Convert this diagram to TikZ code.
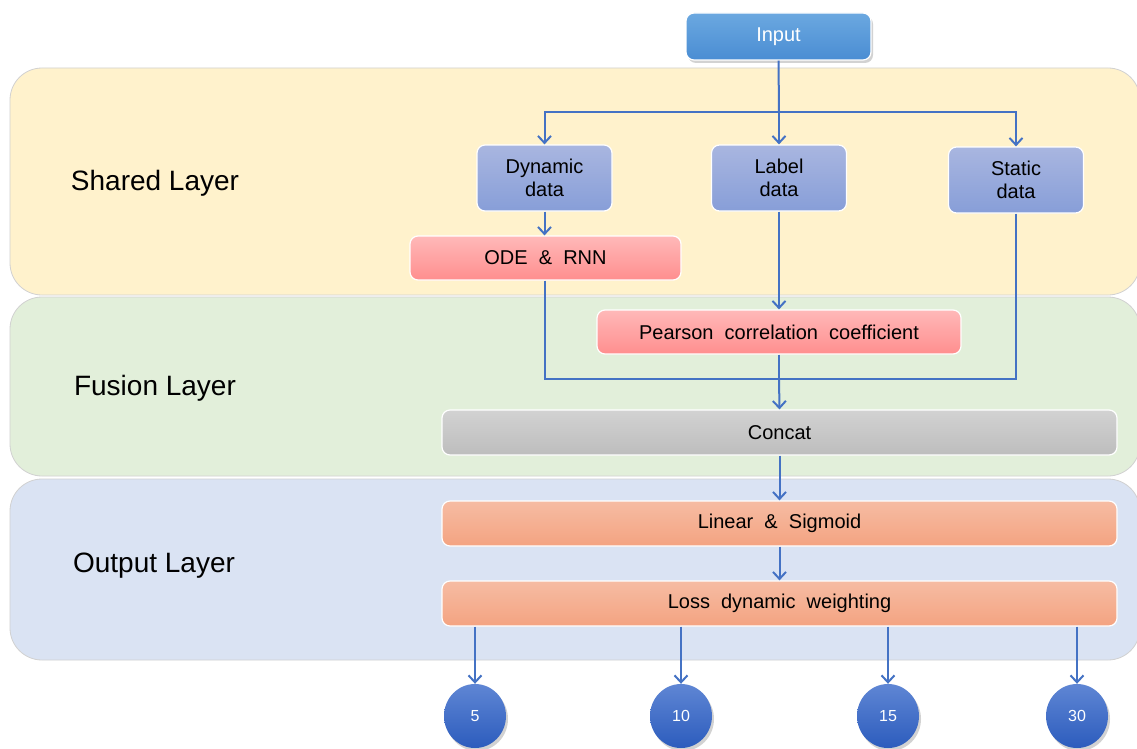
\documentclass[tikz,border=0pt]{standalone}
\usepackage{fontspec}
\setmainfont{Liberation Sans}
\usetikzlibrary{arrows.meta,shadows,shapes.geometric}
\definecolor{arr}{HTML}{4472C4}
\definecolor{layA}{HTML}{FFF2CC}
\definecolor{layB}{HTML}{E2EFDA}
\definecolor{layC}{HTML}{DAE3F3}
\definecolor{datT}{HTML}{A9B6E0}
\definecolor{datB}{HTML}{879ED8}
\definecolor{pinkT}{HTML}{FFB9B9}
\definecolor{pinkB}{HTML}{FF8E8E}
\definecolor{grayT}{HTML}{D2D2D2}
\definecolor{grayB}{HTML}{BDBDBD}
\definecolor{orT}{HTML}{F6BCA3}
\definecolor{orB}{HTML}{F4A381}
\definecolor{inT}{HTML}{6BA8E0}
\definecolor{inB}{HTML}{4A8DD3}
\definecolor{cT}{HTML}{5F86D4}
\definecolor{cB}{HTML}{2C5CBD}
\tikzset{
  layer/.style={draw=black!18, line width=0.8pt, rounded corners=32pt},
  layertext/.style={font=\fontsize{28}{32}\selectfont, text=black},
  boxbase/.style={draw=white, line width=1.2pt, rounded corners=8pt, inner sep=0pt,
    font=\fontsize{20}{23}\selectfont, align=center, text=black},
  datbox/.style={boxbase, top color=datT, bottom color=datB, minimum width=135pt, minimum height=66pt},
  pinkbox/.style={boxbase, top color=pinkT, bottom color=pinkB, minimum height=44pt},
  graybox/.style={boxbase, top color=grayT, bottom color=grayB, minimum width=675pt, minimum height=45pt},
  orbox/.style={boxbase, top color=orT, bottom color=orB, minimum width=675pt, minimum height=45pt},
  inbox/.style={boxbase, top color=inT, bottom color=inB, text=white, minimum width=185pt, minimum height=47pt,
    drop shadow={shadow xshift=2pt, shadow yshift=-3pt, opacity=0.35}},
  outc/.style={ellipse, minimum width=62pt, minimum height=64pt, inner sep=0pt, top color=cT, bottom color=cB,
    text=white, font=\fontsize{16}{19}\selectfont,
    drop shadow={shadow xshift=2pt, shadow yshift=-3pt, opacity=0.35}},
  conn/.style={draw=arr, line width=2pt},
  arrow/.style={conn, -{Straight Barb[length=7pt,width=13pt,line width=2pt]}},
}
\begin{document}
\begin{tikzpicture}[x=1pt,y=-1pt]
\useasboundingbox (0,0) rectangle (1137,749);
\fill[white] (0,0) rectangle (1137,749);
% layers
\draw[layer, fill=layA] (10,68) rectangle (1140,295);
\draw[layer, fill=layB] (10,297) rectangle (1140,476);
\draw[layer, fill=layC] (10,479) rectangle (1140,660);
\node[layertext] (lshared) at (155,183) {Shared Layer};
\node[layertext] (lfusion) at (155,388) {Fusion Layer};
\node[layertext] (loutput) at (154,566) {Output Layer};
% nodes
\node[inbox] (input) at (778.5,36.5) {Input};
\node[datbox] (dyn) at (544.5,178) {Dynamic\\data};
\node[datbox] (lab) at (779,178) {Label\\data};
\node[datbox] (sta) at (1016,180) {Static\\data};
\node[pinkbox, minimum width=271pt] (ode) at (545.5,258) {ODE \ \& \ RNN};
\node[pinkbox, minimum width=364pt] (pear) at (779,332) {Pearson \ correlation \ coefficient};
\node[graybox] (concat) at (779.5,432.5) {Concat};
\node[orbox] (lin) at (779.5,523.5) {Linear \ \& \ Sigmoid};
\node[orbox] (loss) at (779.5,603.5) {Loss \ dynamic \ weighting};
\node[outc] (o5) at (475,716) {5};
\node[outc] (o10) at (681,716) {10};
\node[outc] (o15) at (888,716) {15};
\node[outc] (o30) at (1077,716) {30};
% connectors
\coordinate (split) at (779,112);
\coordinate (merge) at (779,379);
\draw[conn] (input.south) -- (split);
\draw[arrow] (split) -| (dyn.north);
\draw[arrow] (split) -| (sta.north);
\draw[arrow] (split) -- (lab.north);
\draw[arrow] (dyn.south) -- (ode.north -| dyn.south);
\draw[arrow] (lab.south) -- (pear.north);
\draw[conn] (ode.south -| dyn.south) |- (merge);
\draw[conn] (sta.south) |- (merge);
\draw[conn] (pear.south) -- (merge);
\draw[arrow] (merge) -- (concat.north);
\draw[arrow] (concat.south) -- (lin.north);
\draw[arrow] (lin.south) -- (loss.north);
\draw[arrow] (loss.south -| o5) -- (o5.north);
\draw[arrow] (loss.south -| o10) -- (o10.north);
\draw[arrow] (loss.south -| o15) -- (o15.north);
\draw[arrow] (loss.south -| o30) -- (o30.north);
\end{tikzpicture}
\end{document}
